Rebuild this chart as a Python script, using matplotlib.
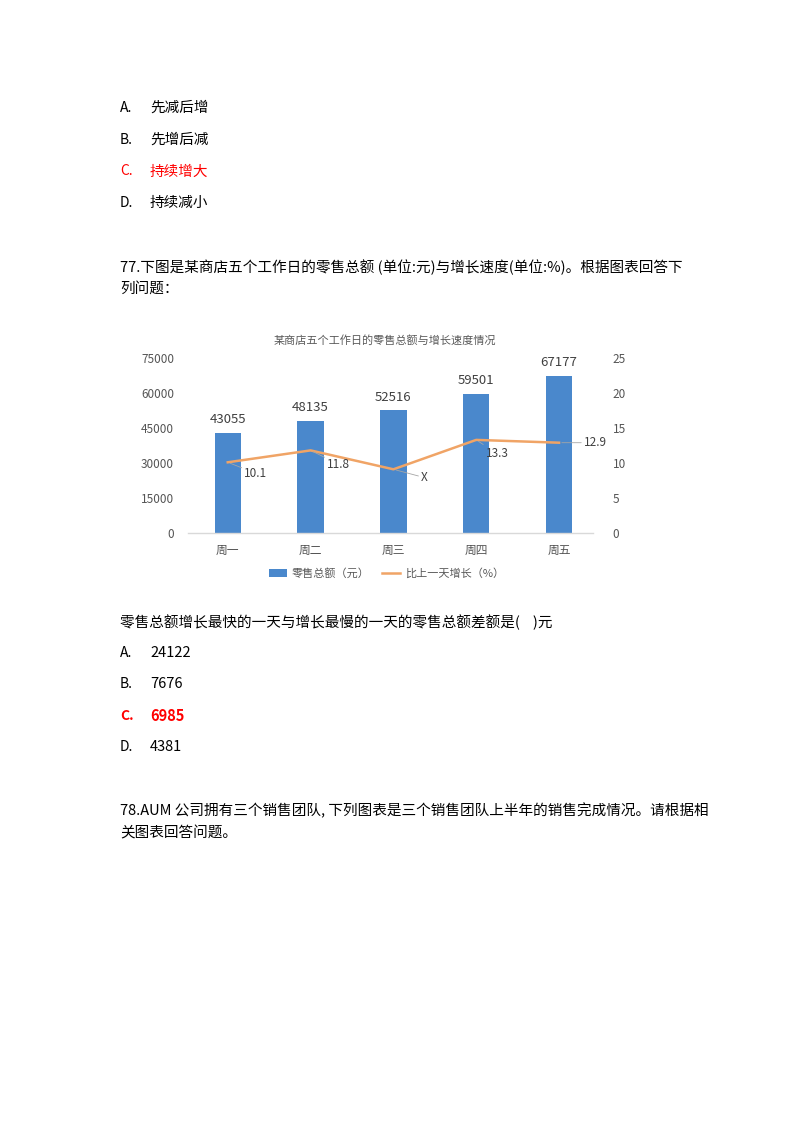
import matplotlib
matplotlib.use('Agg')
import matplotlib.pyplot as plt
from matplotlib.lines import Line2D
from matplotlib.patches import Patch

plt.rcParams['font.family'] = ['Noto Sans CJK SC', 'DejaVu Sans']
plt.rcParams['axes.unicode_minus'] = False

# 数据
days = ['周一', '周二', '周三', '周四', '周五']
sales = [43055, 48135, 52516, 59501, 67177]
growth = [10.1, 11.8, 9.1, 13.3, 12.9]
growth_labels = ['10.1', '11.8', 'X', '13.3', '12.9']
left_ticks = [0, 15000, 30000, 45000, 60000, 75000]
right_ticks = [0, 5, 10, 15, 20, 25]

options_76 = [('A.', '先减后增'), ('B.', '先增后减'), ('C.', '持续增大'), ('D.', '持续减小')]
options_77 = [('A.', '24122'), ('B.', '7676'), ('C.', '6985'), ('D.', '4381')]

W, H = 800, 1131
fig = plt.figure(figsize=(W / 100, H / 100), dpi=100)
fig.patch.set_facecolor('white')


def ftext(px, py, s, **kw):
    fig.text(px / W, 1 - py / H, s, va='center', ha='left', **kw)


# 上一题选项
for i, (k, v) in enumerate(options_76):
    col = '#ff0000' if k == 'C.' else 'black'
    ftext(120, 108 + i * 31.7, k, fontsize=10, color=col)
    ftext(150, 108 + i * 31.7, v, fontsize=10.5, color=col)

ftext(120, 267, '77.下图是某商店五个工作日的零售总额 (单位:元)与增长速度(单位:%)。根据图表回答下',
      fontsize=10.5, color='black')
ftext(120, 289, '列问题：', fontsize=10.5, color='black')

# 图表
ax = fig.add_axes([188 / W, 1 - 533 / H, 405 / W, 175 / H])
x = list(range(len(days)))
bar_color = '#4a88cc'
bars = ax.bar(x, sales, width=0.32, color=bar_color, zorder=2)
ax.set_xlim(-0.48, 4.41)
ax.set_ylim(0, 75000)
ax.set_yticks(left_ticks)
ax.set_yticklabels([str(t) for t in left_ticks])
ax.set_xticks(x)
ax.set_xticklabels(days)
ax.tick_params(axis='y', length=0, pad=10, labelsize=8.5, labelcolor='#555555')
ax.tick_params(axis='x', length=0, pad=8, labelsize=8.5, labelcolor='#555555')
for sp in ['top', 'right', 'left']:
    ax.spines[sp].set_visible(False)
ax.spines['bottom'].set_color('#d9d9d9')
ax.spines['bottom'].set_linewidth(1.0)

for xi, v in zip(x, sales):
    ax.annotate(str(v), (xi, v), xytext=(0, 5), textcoords='offset points',
                ha='center', va='bottom', fontsize=9.5, color='#404040')

ax2 = ax.twinx()
ax2.set_ylim(0, 25)
ax2.set_yticks(right_ticks)
ax2.set_yticklabels([str(t) for t in right_ticks])
ax2.tick_params(axis='y', length=0, pad=14, labelsize=8.5, labelcolor='#555555')
for sp in ['top', 'right', 'left', 'bottom']:
    ax2.spines[sp].set_visible(False)
line_color = '#f0a466'
ax2.plot(x, growth, color=line_color, linewidth=1.8, zorder=3)

label_offsets = [(12, -8), (12, -10), (20, -6), (7, -10), (18, 0)]
for xi, v, lab, off in zip(x, growth, growth_labels, label_offsets):
    ax2.annotate(lab, (xi, v), xytext=off, textcoords='offset points',
                 ha='left', va='center', fontsize=8.5, color='#404040',
                 arrowprops=dict(arrowstyle='-', color='#a6a6a6', lw=0.6,
                                 shrinkA=0, shrinkB=2))

fig.text(385 / W, 1 - 340 / H, '某商店五个工作日的零售总额与增长速度情况',
         ha='center', va='center', fontsize=8, color='#595959')

handles = [Patch(facecolor=bar_color, label='零售总额（元）'),
           Line2D([0], [0], color=line_color, lw=1.8, label='比上一天增长（%）')]
ax.legend(handles=handles, loc='center', bbox_to_anchor=(0.49, -0.23), ncol=2,
          frameon=False, fontsize=8, labelcolor='#595959', handlelength=1.6,
          handleheight=0.7, columnspacing=1.2, handletextpad=0.4)

# 问题
ftext(120, 622, '零售总额增长最快的一天与增长最慢的一天的零售总额差额是(    )元',
      fontsize=10.5, color='black')
for i, (k, v) in enumerate(options_77):
    red = k == 'C.'
    col = '#ff0000' if red else 'black'
    fw = 'bold' if red else 'normal'
    ftext(120, 653 + i * 31.3, k, fontsize=10, color=col, fontweight=fw)
    ftext(150, 653 + i * 31.3, v, fontsize=10.5, color=col, fontweight=fw)

ftext(120, 811, '78.AUM 公司拥有三个销售团队, 下列图表是三个销售团队上半年的销售完成情况。请根据相',
      fontsize=10.5, color='black')
ftext(120, 833, '关图表回答问题。', fontsize=10.5, color='black')

fig.savefig('out.png', dpi=100)
